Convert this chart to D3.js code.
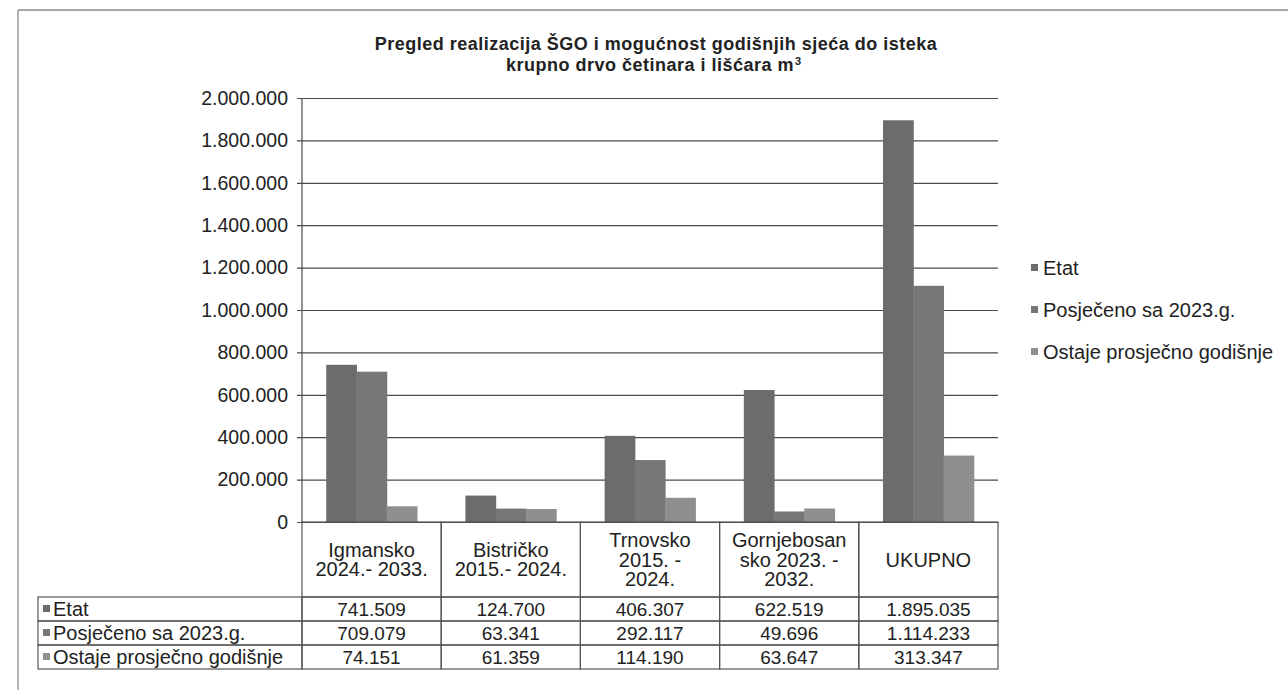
<!DOCTYPE html>
<html lang="bs">
<head>
    <meta charset="UTF-8">
    <title>Pregled realizacija ŠGO</title>
    <script src="https://cdnjs.cloudflare.com/ajax/libs/d3/7.8.5/d3.min.js"></script>
    <style>
        body {
            margin: 0;
            padding: 0;
            background: #fff;
            font-family: "Liberation Sans", Arial, sans-serif;
        }
        svg {
            display: block;
        }
        .grid line {
            stroke: #4a4a4a;
            stroke-width: 1.2px;
        }
        .cell {
            fill: none;
            stroke: #555;
            stroke-width: 1.2px;
        }
        text {
            fill: #222;
        }
    </style>
</head>
<body>
    <svg width="1288" height="690"></svg>
    <script>
        const categories = [
            ["Igmansko", "2024.- 2033."],
            ["Bistričko", "2015.- 2024."],
            ["Trnovsko", "2015. -", "2024."],
            ["Gornjebosan", "sko 2023. -", "2032."],
            ["UKUPNO"]
        ];
        const seriesNames = ["Etat", "Posječeno sa 2023.g.", "Ostaje prosječno godišnje"];
        const etat = [741509, 124700, 406307, 622519, 1895035];
        const posjeceno = [709079, 63341, 292117, 49696, 1114233];
        const ostaje = [74151, 61359, 114190, 63647, 313347];
        const yTicks = [0, 200000, 400000, 600000, 800000, 1000000, 1200000, 1400000, 1600000, 1800000, 2000000];

        const series = [etat, posjeceno, ostaje];
        const colors = ["#6c6c6c", "#777777", "#8f8f8f"];

        const locale = d3.formatLocale({ decimal: ",", thousands: ".", grouping: [3], currency: ["", " KM"] });
        const fmt = locale.format(",d");

        const svg = d3.select("svg");
        const pLeft = 302, pRight = 998, pTop = 98, pBottom = 522;
        const tableLeft = 38;
        const headerBottom = 597, rowH = 24;
        const fs = 20;

        // outer frame (only top and left edges survive in the scan)
        svg.append("line").attr("x1", 18).attr("y1", 10).attr("x2", 1288).attr("y2", 10)
            .attr("stroke", "#8a8a8a").attr("stroke-width", 1.5);
        svg.append("line").attr("x1", 18).attr("y1", 10).attr("x2", 18).attr("y2", 690)
            .attr("stroke", "#9a9a9a").attr("stroke-width", 1.5);

        // title, two lines
        svg.append("text")
            .attr("x", 656).attr("y", 50)
            .attr("text-anchor", "middle")
            .attr("font-size", 18).attr("font-weight", "bold")
            .attr("letter-spacing", 0.5)
            .text("Pregled realizacija ŠGO  i mogućnost godišnjih sjeća do isteka");
        const t2 = svg.append("text")
            .attr("x", 650).attr("y", 71)
            .attr("text-anchor", "middle")
            .attr("font-size", 18).attr("font-weight", "bold")
            .attr("letter-spacing", 0.5)
            .text("krupno drvo četinara i lišćara m");
        const t2box = t2.node().getBBox();
        svg.append("text")
            .attr("x", t2box.x + t2box.width + 1).attr("y", 65)
            .attr("font-size", 11).attr("font-weight", "bold")
            .text("3");

        const x = d3.scaleBand()
            .domain(d3.range(categories.length))
            .range([pLeft, pRight]);
        const barW = x.bandwidth() / (series.length + 1.6);
        const x1 = d3.scaleBand()
            .domain(d3.range(series.length))
            .range([0, barW * series.length]);
        const groupOffset = (x.bandwidth() - barW * series.length) / 2;

        const y = d3.scaleLinear().domain([0, 2000000]).range([pBottom, pTop]);

        // gridlines + tick labels
        const yAxis = d3.axisLeft(y)
            .tickValues(yTicks)
            .tickSize(-(pRight - pLeft))
            .tickSizeOuter(0)
            .tickPadding(14)
            .tickFormat(fmt);
        const gy = svg.append("g")
            .attr("class", "grid")
            .attr("transform", `translate(${pLeft},0)`)
            .call(yAxis);
        gy.select(".domain").remove();
        gy.selectAll(".tick line").attr("x1", -5);
        gy.selectAll(".tick text")
            .attr("font-size", 19.5)
            .attr("font-family", "'Liberation Sans', Arial, sans-serif")
            .attr("fill", "#222");
        svg.append("line")
            .attr("x1", pLeft).attr("x2", pLeft)
            .attr("y1", pTop).attr("y2", pBottom)
            .attr("stroke", "#4a4a4a").attr("stroke-width", 1.2);

        // bars
        series.forEach((vals, si) => {
            svg.append("g").selectAll("rect")
                .data(vals)
                .join("rect")
                .attr("x", (d, i) => x(i) + groupOffset + x1(si))
                .attr("y", d => y(d))
                .attr("width", barW + 0.5)
                .attr("height", d => pBottom - y(d))
                .attr("fill", colors[si]);
        });

        // data table
        const tbl = svg.append("g");
        categories.forEach((lines, i) => {
            tbl.append("rect").attr("class", "cell")
                .attr("x", x(i)).attr("y", pBottom)
                .attr("width", x.bandwidth()).attr("height", headerBottom - pBottom);
            const cy = (pBottom + headerBottom) / 2;
            const lh = 19.5;
            const t = tbl.append("text")
                .attr("text-anchor", "middle")
                .attr("font-size", fs);
            lines.forEach((ln, k) => {
                t.append("tspan")
                    .attr("x", x(i) + x.bandwidth() / 2)
                    .attr("y", cy + (k - (lines.length - 1) / 2) * lh + 7)
                    .text(ln);
            });
        });
        series.forEach((vals, si) => {
            const ry = headerBottom + si * rowH;
            tbl.append("rect").attr("class", "cell")
                .attr("x", tableLeft).attr("y", ry)
                .attr("width", pLeft - tableLeft).attr("height", rowH);
            tbl.append("rect")
                .attr("x", tableLeft + 5).attr("y", ry + rowH / 2 - 4)
                .attr("width", 7).attr("height", 7)
                .attr("fill", colors[si]);
            tbl.append("text")
                .attr("x", tableLeft + 15).attr("y", ry + rowH / 2 + 7)
                .attr("font-size", fs)
                .text(seriesNames[si]);
            vals.forEach((v, i) => {
                tbl.append("rect").attr("class", "cell")
                    .attr("x", x(i)).attr("y", ry)
                    .attr("width", x.bandwidth()).attr("height", rowH);
                tbl.append("text")
                    .attr("x", x(i) + x.bandwidth() / 2)
                    .attr("y", ry + rowH / 2 + 7)
                    .attr("text-anchor", "middle")
                    .attr("font-size", 19)
                    .text(fmt(v));
            });
        });

        // legend
        const legend = svg.append("g");
        seriesNames.forEach((name, si) => {
            const ly = 268 + si * 42;
            legend.append("rect")
                .attr("x", 1031).attr("y", ly - 4)
                .attr("width", 7).attr("height", 7)
                .attr("fill", colors[si]);
            legend.append("text")
                .attr("x", 1043).attr("y", ly + 7)
                .attr("font-size", fs)
                .text(name);
        });
    </script>
</body>
</html>
